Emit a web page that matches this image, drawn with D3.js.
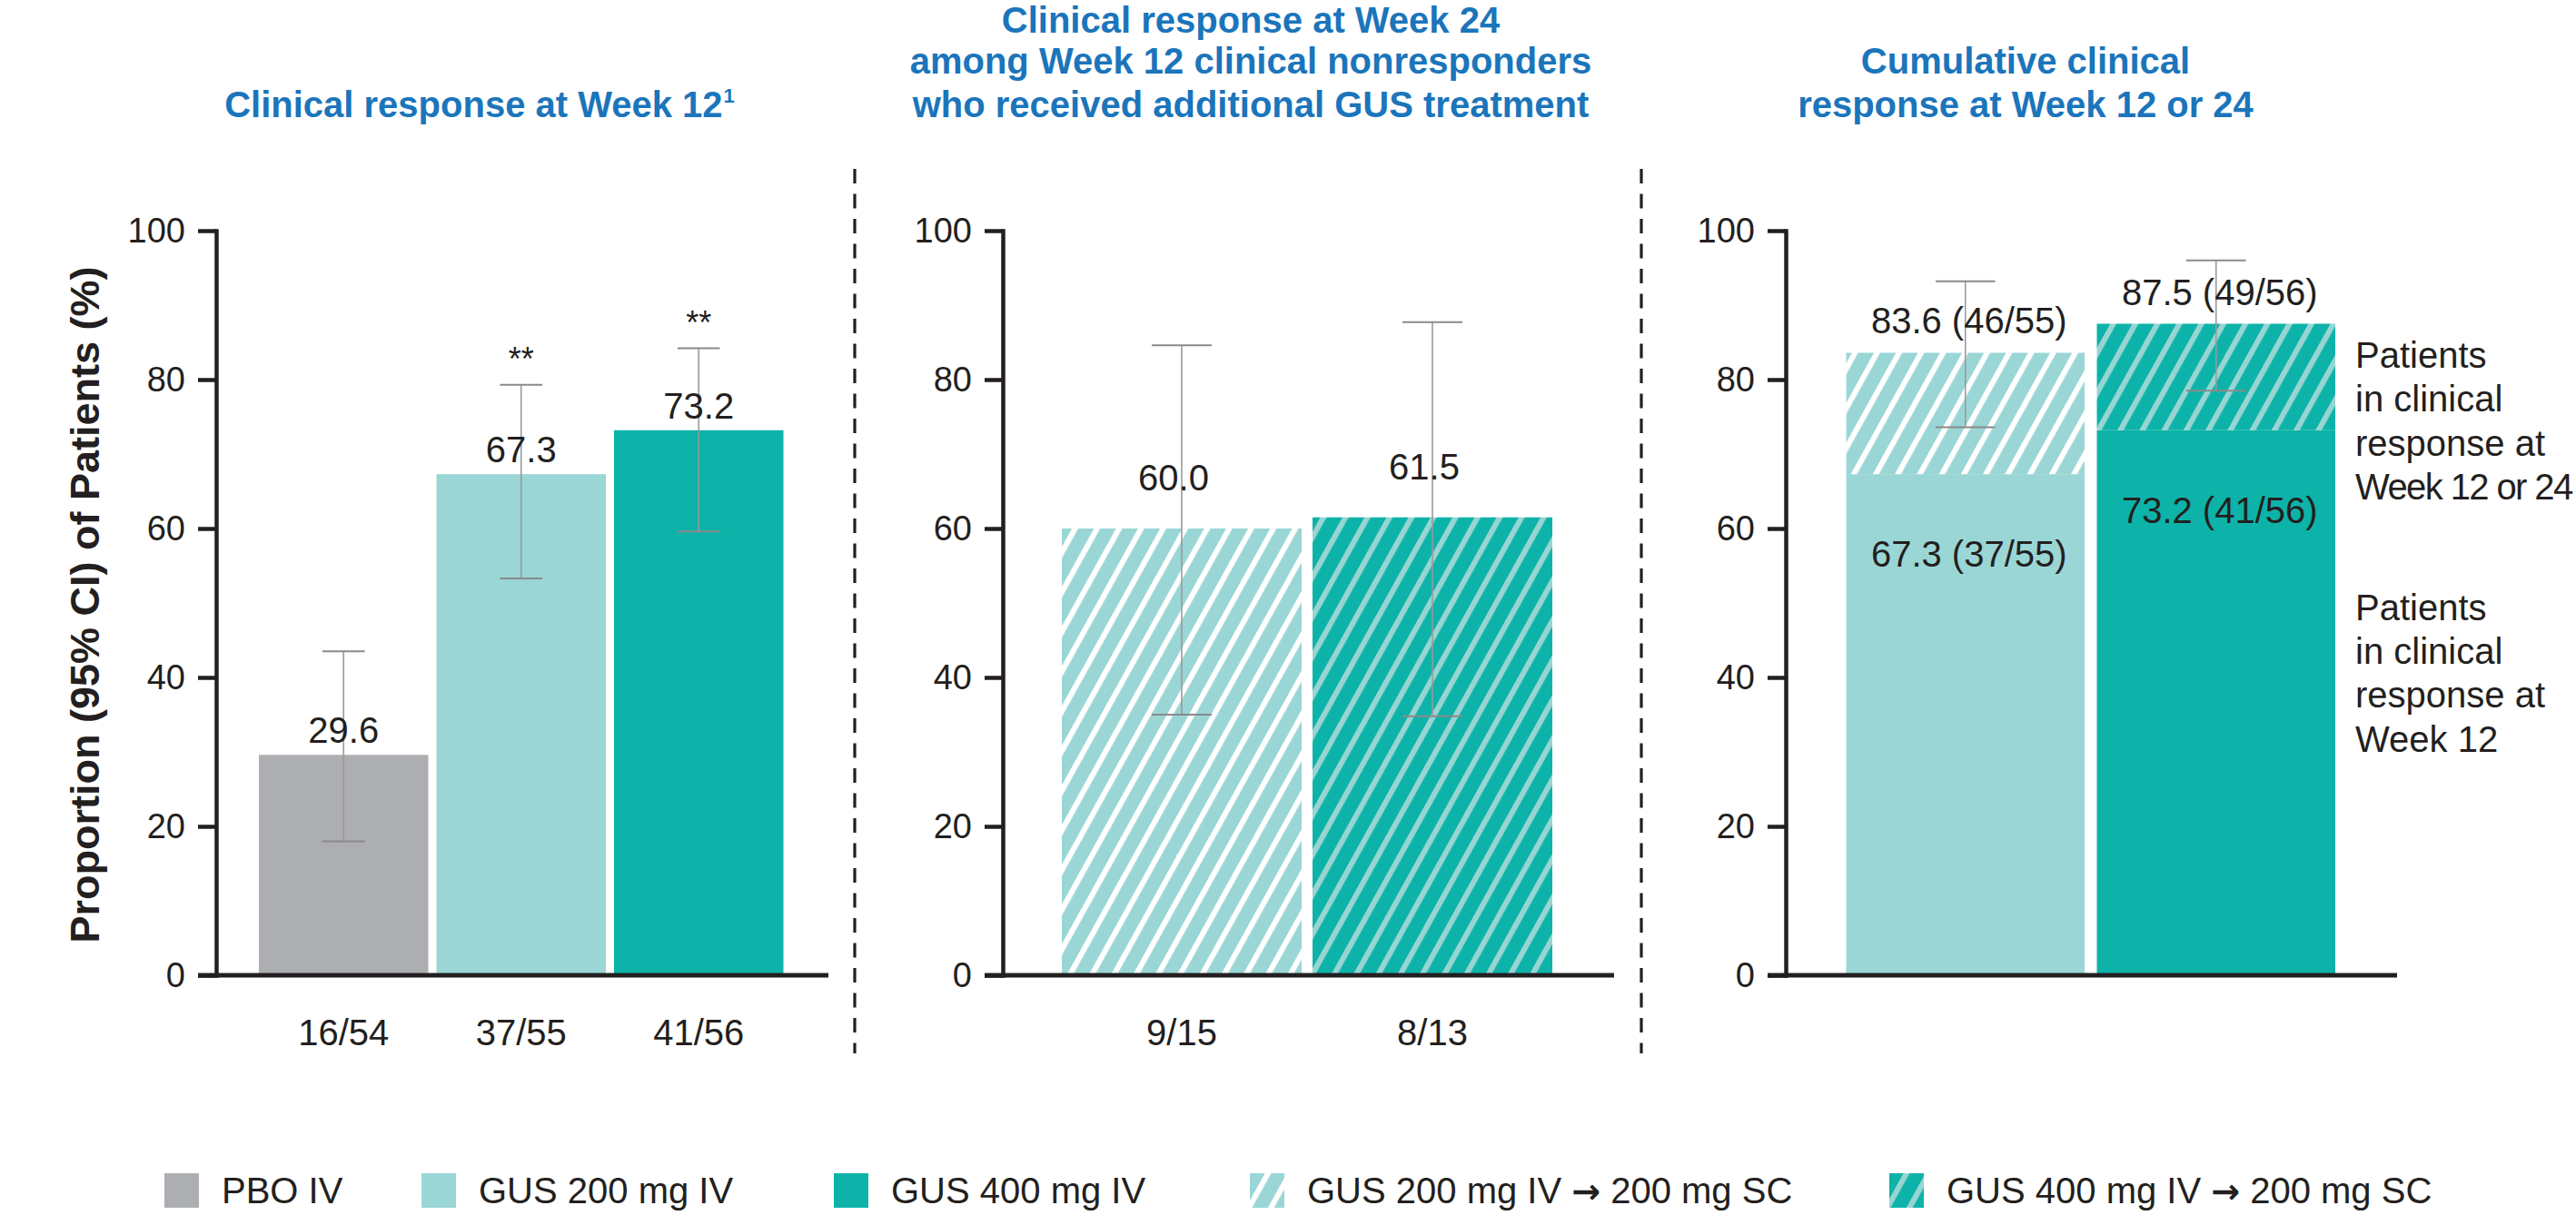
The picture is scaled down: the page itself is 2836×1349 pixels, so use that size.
<!DOCTYPE html>
<html><head><meta charset="utf-8">
<script src="https://cdn.jsdelivr.net/npm/d3@7"></script>
<style>
html,body{margin:0;padding:0;background:#fff;}
svg{display:block;}
text{font-family:"Liberation Sans", Arial, Helvetica, sans-serif;}
</style></head><body>
<svg id="chart" width="2836" height="1349"></svg>
<script>
// ---------------- DATA ----------------
const w12Categories = ["PBO IV", "GUS 200 mg IV", "GUS 400 mg IV"];
const w12Values = [29.6, 67.3, 73.2];
const w12CILow = [18.0, 53.3, 59.6];
const w12CIHigh = [43.5, 79.3, 84.2];
const w12Counts = ["16/54", "37/55", "41/56"];
const w12Significance = ["", "**", "**"];

const w24Categories = ["GUS 200 mg IV \u2192 200 mg SC", "GUS 400 mg IV \u2192 200 mg SC"];
const w24Values = [60.0, 61.5];
const w24CILow = [35.0, 34.8];
const w24CIHigh = [84.6, 87.7];
const w24Counts = ["9/15", "8/13"];

const cumCategories = ["GUS 200 mg IV", "GUS 400 mg IV"];
const cumAddedCategories = ["GUS 200 mg IV \u2192 200 mg SC", "GUS 400 mg IV \u2192 200 mg SC"];
const cumWeek12Values = [67.3, 73.2];
const cumWeek12Counts = ["37/55", "41/56"];
const cumTotalValues = [83.6, 87.5];
const cumTotalCounts = ["46/55", "49/56"];
const cumCILow = [73.6, 78.5];
const cumCIHigh = [93.2, 96.0];

const yTicks = [0, 20, 40, 60, 80, 100];
const legendLabels = ["PBO IV", "GUS 200 mg IV", "GUS 400 mg IV",
  "GUS 200 mg IV \u2192 200 mg SC", "GUS 400 mg IV \u2192 200 mg SC"];

const panelTitles = [
  ["Clinical response at Week 12"],
  ["Clinical response at Week 24", "among Week 12 clinical nonresponders", "who received additional GUS treatment"],
  ["Cumulative clinical", "response at Week 12 or 24"]
];
const annotTop = ["Patients", "in clinical", "response at", "Week 12 or 24"];
const annotBottom = ["Patients", "in clinical", "response at", "Week 12"];
const yAxisTitle = "Proportion (95% CI) of Patients (%)";

// ---------------- STYLE ----------------
const C = {
  gray: "#adaeb1", light: "#9bd6d6", teal: "#0db3a9", stripeDark: "#97d5d3",
  text: "#231f20", blue: "#1b75bb", err: "#9a9a9a", errCap: "#8a8a8a"
};
const fillFor = {
  "PBO IV": C.gray,
  "GUS 200 mg IV": C.light,
  "GUS 400 mg IV": C.teal,
  "GUS 200 mg IV \u2192 200 mg SC": "url(#hatchLight)",
  "GUS 400 mg IV \u2192 200 mg SC": "url(#hatchDark)"
};

const svg = d3.select("#chart");
svg.append("rect").attr("width", 2836).attr("height", 1349).attr("fill", "#fff");

// patterns
const defs = svg.append("defs");
function hatch(id, bg, fg) {
  const p = defs.append("pattern").attr("id", id)
    .attr("patternUnits", "userSpaceOnUse")
    .attr("width", 21.2).attr("height", 21.2)
    .attr("patternTransform", "rotate(29)");
  p.append("rect").attr("width", 21.2).attr("height", 21.2).attr("fill", bg);
  p.append("rect").attr("x", 0).attr("width", 6).attr("height", 21.2).attr("fill", fg);
}
hatch("hatchLight", C.light, "#ffffff");
hatch("hatchDark", C.teal, C.stripeDark);

const y = d3.scaleLinear().domain([0, 100]).range([1074, 254]);

function drawAxes(g, axisX, xEnd) {
  const ax = g.append("g").attr("transform", `translate(${axisX},0)`)
    .call(d3.axisLeft(y).tickValues(yTicks).tickSize(20).tickSizeOuter(0).tickPadding(14));
  ax.select(".domain").attr("stroke", C.text).attr("stroke-width", 4.5).attr("stroke-linecap", "square");
  ax.selectAll(".tick line").attr("stroke", C.text).attr("stroke-width", 4.5);
  ax.selectAll(".tick text").attr("fill", C.text).attr("font-size", 38)
    .attr("font-family", "'Liberation Sans', Arial, sans-serif");
  g.append("line").attr("x1", axisX - 20).attr("x2", xEnd)
    .attr("y1", y(0)).attr("y2", y(0)).attr("stroke", C.text).attr("stroke-width", 5);
}

function drawCountAxis(g, x, counts) {
  const ax = g.append("g").attr("transform", `translate(0,${y(0)})`)
    .call(d3.axisBottom(x).tickSize(0).tickPadding(49).tickFormat((d, i) => counts[i]));
  ax.select(".domain").remove();
  ax.selectAll("text").attr("fill", C.text).attr("font-size", 40)
    .attr("font-family", "'Liberation Sans', Arial, sans-serif");
}

function drawErr(g, x, cats, lo, hi) {
  const cw = x.bandwidth() * 0.25;
  cats.forEach((c, i) => {
    const cx = x(c) + x.bandwidth() / 2;
    g.append("line").attr("x1", cx).attr("x2", cx).attr("y1", y(lo[i])).attr("y2", y(hi[i]))
      .attr("stroke", C.err).attr("stroke-width", 1.6);
    [lo[i], hi[i]].forEach(v => {
      g.append("line").attr("x1", cx - cw / 2).attr("x2", cx + cw / 2).attr("y1", y(v)).attr("y2", y(v))
        .attr("stroke", C.errCap).attr("stroke-width", 2);
    });
  });
}

function label(g, x, yy, txt, size, anchor) {
  return g.append("text").attr("x", x).attr("y", yy).attr("text-anchor", anchor || "middle")
    .attr("font-size", size || 40).attr("fill", C.text).text(txt);
}

// ---------------- PANEL 1 ----------------
{
  const g = svg.append("g");
  const x = d3.scaleBand().domain(w12Categories).range([285, 862.5]).paddingInner(0.046).paddingOuter(0);
  g.selectAll("rect.bar").data(w12Categories).join("rect").attr("class", "bar")
    .attr("x", d => x(d)).attr("width", x.bandwidth())
    .attr("y", (d, i) => y(w12Values[i])).attr("height", (d, i) => y(0) - y(w12Values[i]))
    .attr("fill", d => fillFor[d]);
  drawAxes(g, 238, 912);
  drawErr(g, x, w12Categories, w12CILow, w12CIHigh);
  w12Categories.forEach((c, i) => {
    const cx = x(c) + x.bandwidth() / 2;
    label(g, cx, y(w12Values[i]) - 13, w12Values[i].toFixed(1));
    if (w12Significance[i]) label(g, cx, y(w12CIHigh[i]) - 16, w12Significance[i], 36);
  });
  drawCountAxis(g, x, w12Counts);
  const t = g.append("text").attr("x", 528).attr("y", 128.6).attr("text-anchor", "middle")
    .attr("font-size", 40).attr("font-weight", "bold").attr("fill", C.blue);
  t.append("tspan").text(panelTitles[0][0]);
  t.append("tspan").attr("font-size", 22).attr("dy", -16).attr("dx", 1).text("1");
}

// ---------------- PANEL 2 ----------------
{
  const g = svg.append("g");
  const x = d3.scaleBand().domain(w24Categories).range([1169, 1709]).paddingInner(0.0435).paddingOuter(0);
  g.selectAll("rect.bar").data(w24Categories).join("rect").attr("class", "bar")
    .attr("x", d => x(d)).attr("width", x.bandwidth())
    .attr("y", (d, i) => y(w24Values[i])).attr("height", (d, i) => y(0) - y(w24Values[i]))
    .attr("fill", d => fillFor[d]);
  drawAxes(g, 1104, 1777);
  drawErr(g, x, w24Categories, w24CILow, w24CIHigh);
  w24Categories.forEach((c, i) => {
    const cx = x(c) + x.bandwidth() / 2;
    label(g, cx - 9, y(w24Values[i]) - 42, w24Values[i].toFixed(1));
  });
  drawCountAxis(g, x, w24Counts);
  const titleY = [36, 81, 128.6];
  panelTitles[1].forEach((line, i) => {
    g.append("text").attr("x", 1377).attr("y", titleY[i]).attr("text-anchor", "middle")
      .attr("font-size", 40).attr("font-weight", "bold").attr("fill", C.blue).text(line);
  });
}

// ---------------- PANEL 3 ----------------
{
  const g = svg.append("g");
  const x = d3.scaleBand().domain(cumCategories).range([2032.5, 2571]).paddingInner(0.049).paddingOuter(0);
  g.selectAll("rect.base").data(cumCategories).join("rect").attr("class", "base")
    .attr("x", d => x(d)).attr("width", x.bandwidth())
    .attr("y", (d, i) => y(cumWeek12Values[i])).attr("height", (d, i) => y(0) - y(cumWeek12Values[i]))
    .attr("fill", d => fillFor[d]);
  g.selectAll("rect.added").data(cumCategories).join("rect").attr("class", "added")
    .attr("x", d => x(d)).attr("width", x.bandwidth())
    .attr("y", (d, i) => y(cumTotalValues[i])).attr("height", (d, i) => y(cumWeek12Values[i]) - y(cumTotalValues[i]))
    .attr("fill", (d, i) => fillFor[cumAddedCategories[i]]);
  drawAxes(g, 1966, 2639);
  drawErr(g, x, cumCategories, cumCILow, cumCIHigh);
  cumCategories.forEach((c, i) => {
    const cx = x(c) + x.bandwidth() / 2 + 4;
    label(g, cx, y(cumTotalValues[i]) - 21, `${cumTotalValues[i].toFixed(1)} (${cumTotalCounts[i]})`);
    label(g, cx, y(cumWeek12Values[i]) + 102, `${cumWeek12Values[i].toFixed(1)} (${cumWeek12Counts[i]})`);
  });
  panelTitles[2].forEach((line, i) => {
    g.append("text").attr("x", 2230).attr("y", 80.5 + i * 48).attr("text-anchor", "middle")
      .attr("font-size", 40).attr("font-weight", "bold").attr("fill", C.blue).text(line);
  });
  annotTop.forEach((line, i) => {
    const t = label(g, 2593, 405 + i * 48.3, line, 40, "start");
    if (i === annotTop.length - 1) t.attr("letter-spacing", -1.6);
  });
  annotBottom.forEach((line, i) => label(g, 2593, 683 + i * 48.2, line, 40, "start"));
}

// ---------------- SEPARATORS ----------------
[941, 1807].forEach(sx => {
  svg.append("line").attr("x1", sx).attr("x2", sx).attr("y1", 186).attr("y2", 1160)
    .attr("stroke", C.text).attr("stroke-width", 3.2).attr("stroke-dasharray", "16 11.5");
});

// ---------------- Y TITLE ----------------
svg.append("text").attr("transform", "translate(109,666) rotate(-90)")
  .attr("text-anchor", "middle").attr("font-size", 45).attr("font-weight", "bold")
  .attr("fill", C.text).text(yAxisTitle);

// ---------------- LEGEND ----------------
const legendX = [181, 464, 918, 1376, 2080];
const lg = svg.append("g");
legendLabels.forEach((lab, i) => {
  lg.append("rect").attr("x", legendX[i]).attr("y", 1292).attr("width", 38).attr("height", 38)
    .attr("fill", fillFor[lab]);
  const t = lg.append("text").attr("x", legendX[i] + 63).attr("y", 1325).attr("font-size", 40)
    .attr("fill", C.text);
  const parts = lab.split("\u2192");
  t.append("tspan").text(parts[0]);
  if (parts.length > 1) {
    t.append("tspan").attr("font-family", "'DejaVu Sans', sans-serif").attr("font-weight", "bold")
      .attr("font-size", 38).text("\u2192");
    t.append("tspan").text(parts[1]);
  }
});
</script>
</body></html>
